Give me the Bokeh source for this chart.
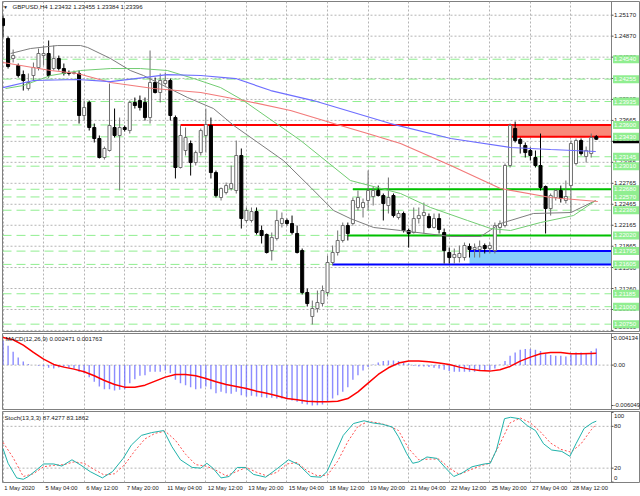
from bokeh.plotting import figure
from bokeh.models import ColumnDataSource, Range1d, FixedTicker, Label
from bokeh.layouts import column
from bokeh.embed import file_html
from bokeh.resources import INLINE
from bokeh.core.properties import value

# ---------------- data ----------------
symbol = "GBPUSD,H4"

opens = [
    1.25122, 1.24836, 1.24550, 1.24450, 1.24321, 1.24121, 1.24307, 1.24421, 1.24593, 1.24622,
    1.24407, 1.24550, 1.24407, 1.24350, 1.24336, 1.24336, 1.23735, 1.23921, 1.23563, 1.23406,
    1.23134, 1.23234, 1.23563, 1.23449, 1.23563, 1.23520, 1.23921, 1.23949, 1.23921, 1.23706,
    1.24207, 1.24064, 1.24193, 1.24236, 1.23706, 1.22991, 1.23234, 1.23334, 1.23062, 1.23205,
    1.23449, 1.23592, 1.22919, 1.22562, 1.22633, 1.22690, 1.22662, 1.23163, 1.22233, 1.22233,
    1.22361, 1.22090, 1.22032, 1.21803, 1.21975, 1.22190, 1.22233, 1.22190, 1.22047, 1.21803,
    1.21203, 1.20860, 1.20974, 1.21045, 1.21203, 1.21632, 1.21775, 1.21947, 1.22161, 1.22190,
    1.22419, 1.22419, 1.22519, 1.22576, 1.22662, 1.22590, 1.22447, 1.22590, 1.22276, 1.22333,
    1.22090, 1.22061, 1.22261, 1.22304, 1.22290, 1.22133, 1.22261, 1.22061, 1.21775, 1.21703,
    1.21703, 1.21703, 1.21861, 1.21818, 1.21818, 1.21875, 1.21832, 1.21803, 1.22133, 1.22161,
    1.23020, 1.23549, 1.23391, 1.23306, 1.23234, 1.23134, 1.23020, 1.22719, 1.22404, 1.22562,
    1.22662, 1.22519, 1.22733, 1.23048, 1.23377, 1.23148, 1.23191, 1.23432]
highs = [
    1.25165, 1.24865, 1.24679, 1.24479, 1.24379, 1.24336, 1.24493, 1.24693, 1.24736, 1.24808,
    1.24736, 1.24593, 1.24479, 1.24379, 1.24379, 1.24379, 1.23949, 1.23949, 1.23620, 1.23449,
    1.23291, 1.24193, 1.23835, 1.23706, 1.23592, 1.23949, 1.23992, 1.24021, 1.23992, 1.24665,
    1.24278, 1.24336, 1.24350, 1.24264, 1.23735, 1.23592, 1.23563, 1.23377, 1.23234, 1.23549,
    1.23835, 1.23706, 1.22948, 1.22705, 1.22776, 1.23020, 1.23377, 1.23263, 1.22419, 1.22419,
    1.22419, 1.22161, 1.22047, 1.22061, 1.22376, 1.22347, 1.22261, 1.22304, 1.22161, 1.21832,
    1.21260, 1.21088, 1.21231, 1.21303, 1.21732, 1.21875, 1.22090, 1.22204, 1.22204, 1.22562,
    1.22662, 1.22547, 1.22948, 1.22719, 1.22733, 1.22619, 1.22848, 1.22619, 1.22376, 1.22361,
    1.22118, 1.22419, 1.22419, 1.22490, 1.22333, 1.22333, 1.22333, 1.22118, 1.21846, 1.21832,
    1.21875, 1.21918, 1.21904, 1.21904, 1.21947, 1.21904, 1.21918, 1.22204, 1.22233, 1.23048,
    1.23620, 1.23649, 1.23420, 1.23349, 1.23277, 1.23234, 1.23477, 1.22733, 1.22619, 1.22690,
    1.22733, 1.22805, 1.23377, 1.23406, 1.23406, 1.23291, 1.23477, 1.23455]
lows = [
    1.24851, 1.24407, 1.24493, 1.24278, 1.24092, 1.24092, 1.24236, 1.24379, 1.24450, 1.24278,
    1.24379, 1.24379, 1.24307, 1.24307, 1.24321, 1.23620, 1.23663, 1.23520, 1.23349, 1.23120,
    1.23105, 1.23220, 1.23420, 1.22662, 1.23506, 1.23477, 1.23835, 1.23806, 1.23663, 1.23620,
    1.24050, 1.23921, 1.24164, 1.23663, 1.22834, 1.22977, 1.23163, 1.22876, 1.23020, 1.23163,
    1.23205, 1.22834, 1.22562, 1.22519, 1.22605, 1.22662, 1.22619, 1.22118, 1.22204, 1.22204,
    1.22032, 1.21904, 1.21761, 1.21660, 1.21947, 1.22133, 1.22161, 1.22032, 1.21761, 1.21174,
    1.21002, 1.20745, 1.20917, 1.21002, 1.21145, 1.21589, 1.21732, 1.21918, 1.21947, 1.22161,
    1.22376, 1.22276, 1.22376, 1.22447, 1.22576, 1.22233, 1.22333, 1.22276, 1.22247, 1.22061,
    1.21846, 1.22047, 1.22190, 1.22047, 1.22118, 1.22118, 1.22047, 1.21618, 1.21618, 1.21618,
    1.21632, 1.21660, 1.21703, 1.21703, 1.21703, 1.21761, 1.21761, 1.21761, 1.22047, 1.22133,
    1.22991, 1.23349, 1.23191, 1.23134, 1.23091, 1.22991, 1.22662, 1.22047, 1.22304, 1.22519,
    1.22490, 1.22476, 1.22347, 1.23020, 1.23163, 1.23062, 1.23134, 1.23384]
closes = [
    1.25022, 1.24436, 1.24593, 1.24307, 1.24236, 1.24207, 1.24421, 1.24622, 1.24622, 1.24307,
    1.24550, 1.24407, 1.24336, 1.24336, 1.24350, 1.23735, 1.23849, 1.23563, 1.23406, 1.23134,
    1.23263, 1.23592, 1.23449, 1.23563, 1.23535, 1.23921, 1.23878, 1.23849, 1.23706, 1.24207,
    1.24064, 1.24236, 1.24236, 1.23735, 1.22991, 1.23449, 1.23420, 1.23062, 1.23205, 1.23520,
    1.23606, 1.22919, 1.22590, 1.22690, 1.22733, 1.22762, 1.23163, 1.22261, 1.22376, 1.22361,
    1.22061, 1.22018, 1.21775, 1.21989, 1.22233, 1.22261, 1.22190, 1.22061, 1.21775, 1.21203,
    1.21045, 1.20974, 1.21060, 1.21231, 1.21632, 1.21775, 1.21947, 1.22161, 1.22047, 1.22519,
    1.22562, 1.22490, 1.22662, 1.22662, 1.22590, 1.22476, 1.22562, 1.22304, 1.22333, 1.22090,
    1.22047, 1.22261, 1.22304, 1.22347, 1.22133, 1.22261, 1.22104, 1.21803, 1.21703, 1.21746,
    1.21761, 1.21875, 1.21818, 1.21846, 1.21861, 1.21832, 1.21875, 1.22161, 1.22190, 1.23020,
    1.23592, 1.23377, 1.23334, 1.23205, 1.23163, 1.23020, 1.22705, 1.22404, 1.22590, 1.22662,
    1.22547, 1.22576, 1.23334, 1.23377, 1.23191, 1.23234, 1.23420, 1.23396]

# moving averages (bar position, price)
ma_gray_x = [1.5, 5.4, 10.7, 15.3, 16.7, 21.2, 25.1, 27.7, 32.4, 36.4, 41.5, 45.5, 55.3, 60.7,
             65.2, 68.5, 73.1, 78.4, 88.3, 94.2, 98.1, 104.6, 112.0, 116.9]
ma_gray_y = [1.24622, 1.24693, 1.24736, 1.24736, 1.24708, 1.24550, 1.24379, 1.24307, 1.24136,
             1.23992, 1.23835, 1.23592, 1.23091, 1.22705, 1.22376, 1.22261, 1.22133, 1.22090,
             1.22004, 1.22004, 1.22190, 1.22333, 1.22347, 1.22519]
ma_red_x = [0.0, 9.4, 14.7, 21.2, 29.7, 39.0, 47.4, 56.7, 65.2, 71.9, 78.4, 88.3, 98.1, 108.0, 117.3]
ma_red_y = [1.24493, 1.24379, 1.24336, 1.24207, 1.24121, 1.24064, 1.23950, 1.23807, 1.23621,
            1.23478, 1.23335, 1.23020, 1.22691, 1.22562, 1.22505]
ma_blue_x = [0.0, 6.0, 14.7, 21.2, 27.7, 32.4, 39.0, 45.9, 52.8, 61.2, 76.4, 88.3, 100.1, 108.0, 116.9]
ma_blue_y = [1.24135, 1.24236, 1.24250, 1.24221, 1.24278, 1.24321, 1.24307, 1.24264, 1.24092,
             1.23949, 1.23620, 1.23406, 1.23277, 1.23249, 1.23220]
ma_green_x = [0.5, 4.0, 9.4, 15.3, 21.2, 27.1, 32.4, 37.6, 42.9, 47.4, 58.7, 68.5, 78.4, 84.3,
              91.6, 96.2, 100.1, 106.0, 112.5, 116.9]
ma_green_y = [1.24121, 1.24164, 1.24307, 1.24379, 1.24407, 1.24407, 1.24379, 1.24264, 1.24135,
              1.23949, 1.23377, 1.22805, 1.22619, 1.22419, 1.22233, 1.22118, 1.22090, 1.22204,
              1.22304, 1.22519]

# chart objects
level_prices = [1.24540, 1.24255, 1.23935, 1.23600, 1.23430, 1.23145, 1.23010, 1.22680,
                1.22570, 1.22380, 1.22020, 1.21795, 1.21605, 1.21185, 1.21000, 1.20750]
red_line = dict(start=35, price=1.23600)
red_zone = dict(start=100, top=1.23600, bottom=1.23430)
green_lines_start = [69, 68]
green_lines_price = [1.22680, 1.22020]
blue_line = dict(start=65, price=1.21605)
blue_zone = dict(start=92, top=1.21795, bottom=1.21605)

price_ticks = [1.25170, 1.24870, 1.24570, 1.24265, 1.23965, 1.23665, 1.23365, 1.23065,
               1.22765, 1.22465, 1.22165, 1.21865, 1.21560, 1.21260, 1.20960, 1.20660]

date_idx = [0, 8, 16, 24, 32, 40, 48, 56, 64, 72, 80, 88, 96, 104, 112]
date_labels = ["1 May 2020", "5 May 04:00", "6 May 12:00", "7 May 20:00", "11 May 04:00",
               "12 May 12:00", "13 May 20:00", "15 May 04:00", "18 May 12:00", "19 May 20:00",
               "21 May 04:00", "22 May 12:00", "25 May 20:00", "27 May 04:00", "28 May 12:00"]

# MACD(12,26,9)
macd_hist = [
    0.00364, 0.0029, 0.0020, 0.00115, 0.00055, 0.00015, 0.00002, -0.0001, -0.0002, -0.0004,
    -0.0005, -0.00035, -0.00025, -0.0004, -0.0005, -0.0010, -0.0012, -0.0018, -0.0025, -0.0032,
    -0.0036, -0.0036, -0.0038, -0.0037, -0.0036, -0.0027, -0.0021, -0.0016, -0.0015, -0.0010,
    -0.0010, -0.0010, -0.0008, -0.0012, -0.0022, -0.0027, -0.0030, -0.0033, -0.0036, -0.0035,
    -0.0032, -0.0036, -0.0042, -0.0040, -0.0042, -0.0043, -0.0040, -0.0045, -0.0047, -0.0046,
    -0.0047, -0.0048, -0.0049, -0.0049, -0.0050, -0.0050, -0.0051, -0.0053, -0.0055, -0.0058,
    -0.0059, -0.006049, -0.0060, -0.0059, -0.0055, -0.0050, -0.0045, -0.0040, -0.0033, -0.0022,
    -0.0015, -0.0008, -0.0003, 0.0001, 0.0004, 0.0006, 0.0007, 0.0007, 0.0006, 0.0004,
    0.0002, -0.0001, -0.0002, -0.0002, -0.0003, -0.0004, -0.0005, -0.0007, -0.0009, -0.0010,
    -0.0010, -0.0010, -0.0010, -0.0010, -0.0009, -0.0009, -0.0008, -0.0005, 0.0001, 0.0006,
    0.0014, 0.0019, 0.0023, 0.0024, 0.0024, 0.0023, 0.0021, 0.0017, 0.0015, 0.0014,
    0.0014, 0.0013, 0.0016, 0.0019, 0.0019, 0.0018, 0.0021, 0.002471]
macd_sig_x = [0, 2, 4, 6, 8, 10, 12, 14, 16, 18, 20, 22, 24, 26, 28, 30, 32, 34, 36, 38,
              40, 42, 44, 46, 48, 50, 52, 54, 56, 58, 60, 62, 64, 66, 68, 70, 72, 74, 76, 78,
              80, 82, 84, 86, 88, 90, 92, 94, 96, 98, 100, 102, 104, 106, 108, 110, 112, 114, 116, 117]
macd_sig = [0.004134, 0.0038, 0.0030, 0.0019, 0.0009, 0.0001, -0.0003, -0.0006, -0.0010, -0.0016,
            -0.0023, -0.0029, -0.0033, -0.0033, -0.0030, -0.0024, -0.0018, -0.0014, -0.0014, -0.0016,
            -0.0020, -0.0025, -0.0029, -0.0032, -0.0035, -0.0039, -0.0042, -0.0046, -0.0050, -0.0052,
            -0.0054, -0.0055, -0.0055, -0.0054, -0.0050, -0.0040, -0.0027, -0.0014, -0.0004, 0.0003,
            0.0006, 0.0006, 0.0005, 0.0003, 0.0001, -0.0003, -0.0006, -0.0008, -0.0009, -0.0007,
            -0.0002, 0.0006, 0.0012, 0.0017, 0.0019, 0.0019, 0.0017, 0.0017, 0.00175, 0.001763]
macd_ticks = [0.004134, 0.0, -0.006049]
macd_tick_text = ["0.004134", "0.00", "-0.006049"]

# Stochastic(13,3,3)
stoch_x = [0, 1, 2.7, 4, 5, 6.7, 8, 10, 11.6, 13.6, 15.2, 17.2, 19.6, 21.6, 23.7, 25.3, 27.3,
           29.3, 31.7, 33.3, 35, 37.3, 39, 40.2, 41.4, 43, 44.6, 46.2, 47.8, 49.4, 51.8, 54.2,
           56.3, 58.3, 60.7, 62.7, 63.9, 65.5, 67.1, 69.1, 71.2, 72.8, 74.8, 76.8, 78, 79.6,
           80.8, 82, 83.6, 85.6, 87.3, 88.9, 90.5, 92.5, 94.9, 96.1, 97.3, 98.9, 100.1, 101.8,
           103.4, 105, 106.6, 108.2, 110.2, 111.8, 113, 114.6, 116.2, 117]
stoch_main = [48, 27, 6, 4, 8, 18, 26, 26, 23, 32, 25, 15, 6, 15, 34, 53, 67, 71, 74, 51, 32,
              21, 20, 27, 20, 6, 8, 21, 21, 11, 7, 20, 32, 25, 8, 7, 15, 41, 67, 84, 88, 85, 83,
              79, 65, 41, 27, 29, 36, 34, 20, 8, 13, 22, 26, 27, 46, 91, 93, 91, 81, 74, 55, 46,
              44, 37, 55, 77, 85, 87.4277]
stoch_sig_x = [0, 2, 4, 6, 8, 10, 12, 14, 16, 18, 20, 22, 24, 26, 28, 30, 32, 34, 36, 38,
               40, 42, 44, 46, 48, 50, 52, 54, 56, 58, 60, 62, 64, 66, 68, 70, 72, 74, 76, 78,
               80, 82, 84, 86, 88, 90, 92, 94, 96, 98, 100, 102, 104, 106, 108, 110, 112, 114, 116, 117]
stoch_sig = [57, 35, 8, 12, 22, 24, 25, 29, 27, 18, 10, 12, 25, 45, 62, 70, 73, 60, 40, 25,
             23, 17, 9, 15, 21, 14, 9, 14, 26, 28, 16, 9, 10, 30, 58, 80, 87, 85, 81, 74,
             48, 32, 33, 33, 20, 11, 17, 23, 27, 55, 85, 92, 85, 72, 56, 47, 43, 55, 75, 83.1862]
stoch_ticks = [100, 80, 20, 0]
stoch_levels = [20, 80]

# ---------------- layout / style ----------------
FONT = "Liberation Sans"
FS = "6.1px"
FS_MACD = "5.9px"
FS_DATE = "5.8px"
TXT = "#1a1a1a"
GRID = "#b4b4b4"
EDGE = "#808080"
X0, X1 = -0.1, 120.0            # visible bars; X1 = price-scale line
PLOT_W = 609                     # width of the chart area in px
SCALE_W = 29                     # price scale strip on the right
bar_px = PLOT_W / (X1 - X0)
XR = X1 + SCALE_W / bar_px
x_range = Range1d(X0, XR)


def panel(frame_h, y_range, top, bottom, x_axis=None):
    f = figure(frame_width=PLOT_W + SCALE_W, frame_height=frame_h, x_range=x_range,
               y_range=y_range, x_axis_location=x_axis, y_axis_location=None,
               toolbar_location=None, output_backend="svg", min_border_left=2,
               min_border_right=0, min_border_top=top, min_border_bottom=bottom)
    f.outline_line_color = EDGE
    f.background_fill_color = "white"
    f.border_fill_color = "white"
    f.xgrid.ticker = FixedTicker(ticks=date_idx)
    f.xgrid.grid_line_color = GRID
    f.xgrid.grid_line_dash = "2 2"
    f.ygrid.visible = False
    return f


def hgrid(f, levels):
    f.segment(x0=X0, x1=X1, y0=levels, y1=levels, line_color=GRID, line_dash="2 2", line_width=1)


def price_scale(f, frame_h, ticks, texts, size, gap=2.5):
    yr = f.y_range
    m = 4.5 * (yr.end - yr.start) / frame_h
    label_y = [min(max(t, yr.start + m), yr.end - m) for t in ticks]
    f.segment(x0=X1, x1=X1, y0=yr.start, y1=yr.end, line_color=EDGE, line_width=1)
    f.segment(x0=X1, x1=X1 + 2 / bar_px, y0=ticks, y1=ticks, line_color="#505050", line_width=1)
    f.text(x=[X1 + gap / bar_px] * len(ticks), y=label_y, text=texts, text_font=value(FONT),
           text_font_size=value(size), text_color=TXT, text_baseline="middle", text_align="left")


# ---------------- main price window ----------------
H_MAIN = 330
p = panel(H_MAIN, Range1d(1.20645, 1.25366), 1, 1)
hgrid(p, price_ticks)

for lv in level_prices:
    p.segment(x0=X0, x1=X1, y0=lv, y1=lv, line_color="#90ee90", line_width=1, line_dash="9 5")

p.quad(left=red_zone["start"], right=X1, top=red_zone["top"], bottom=red_zone["bottom"],
       fill_color="#f98a7a", line_color=None)
p.quad(left=blue_zone["start"], right=X1, top=blue_zone["top"], bottom=blue_zone["bottom"],
       fill_color="#87cefa", line_color=None)
p.segment(x0=red_line["start"], x1=X1, y0=red_line["price"], y1=red_line["price"],
          line_color="#ff0000", line_width=2)
p.segment(x0=red_zone["start"], x1=X1, y0=red_zone["bottom"], y1=red_zone["bottom"],
          line_color="#ff0000", line_width=2)
for st, lv in zip(green_lines_start, green_lines_price):
    p.segment(x0=st, x1=X1, y0=lv, y1=lv, line_color="#00c000", line_width=2)
p.segment(x0=blue_line["start"], x1=X1, y0=blue_line["price"], y1=blue_line["price"],
          line_color="#0000ff", line_width=2)
p.segment(x0=blue_zone["start"], x1=X1, y0=blue_zone["top"], y1=blue_zone["top"],
          line_color="#0000ff", line_width=2)

idx = list(range(len(opens)))
up = [c >= o for o, c in zip(opens, closes)]
src = ColumnDataSource(dict(
    x=idx, h=highs, l=lows,
    top=[max(o, c) for o, c in zip(opens, closes)],
    bot=[min(o, c) for o, c in zip(opens, closes)],
    fill=["white" if u else "black" for u in up],
    line=["#6e6e6e" if u else "black" for u in up],
))
p.segment(x0="x", x1="x", y0="l", y1="h", line_color="line", line_width=1, source=src)
p.vbar(x="x", width=0.6, top="top", bottom="bot", fill_color="fill", line_color="line",
       line_width=1, source=src)

p.line(ma_gray_x, ma_gray_y, line_color="#7d7d7d", line_width=1)
p.line(ma_green_x, ma_green_y, line_color="#72cc72", line_width=1)
p.line(ma_red_x, ma_red_y, line_color="#f27a7a", line_width=1.2)
p.line(ma_blue_x, ma_blue_y, line_color="#6e6eff", line_width=1.2)

price_scale(p, H_MAIN, price_ticks, [f"{t:.5f}" for t in price_ticks], FS)

# price tags on the scale
tag_cx = X1 + (1.5 + 13) / bar_px
tag_tx = X1 + 2.5 / bar_px
p.rect(x=[tag_cx], y=[closes[-1]], width=26, height=8, width_units="screen",
       height_units="screen", fill_color="black", line_color=None)
p.text(x=[tag_tx], y=[closes[-1]], text=[f"{closes[-1]:.5f}"], text_font=value(FONT),
       text_font_size=value(FS), text_color="white", text_baseline="middle", text_align="left")
p.rect(x=[tag_cx] * len(level_prices), y=level_prices, width=26, height=8, width_units="screen",
       height_units="screen", fill_color="#90ee90", line_color=None)
p.text(x=[tag_tx] * len(level_prices), y=level_prices, text=[f"{lv:.5f}" for lv in level_prices],
       text_font=value(FONT), text_font_size=value(FS), text_color="white",
       text_baseline="middle", text_align="left")

title = f"{symbol} {opens[-1]:.5f} {highs[-1]:.5f} {lows[-1]:.5f} {closes[-1]:.5f}"
p.add_layout(Label(x=3, y=H_MAIN - 5, x_units="screen", y_units="screen", text="\u25bc",
                   text_font_size="5px", text_align="center", text_baseline="middle",
                   text_color=TXT))
p.add_layout(Label(x=10, y=H_MAIN - 5, x_units="screen", y_units="screen", text=title,
                   text_font=FONT, text_font_size=FS, text_baseline="middle", text_color=TXT))

# ---------------- MACD window ----------------
H_MACD = 76
m = panel(H_MACD, Range1d(-0.006647, 0.004734), 1, 1)
hgrid(m, [0.0])
m.vbar(x=idx, top=macd_hist, bottom=0, width=0.28, fill_color="#6f6fff", fill_alpha=0.8,
       line_color=None)
m.line(macd_sig_x, macd_sig, line_color="#ff0000", line_width=1.5)
price_scale(m, H_MACD, macd_ticks, macd_tick_text, FS_MACD, gap=2)
m.add_layout(Label(x=3, y=H_MACD - 4.7, x_units="screen", y_units="screen",
                   text=f"MACD(12,26,9) {macd_hist[-1]:.6f} {macd_sig[-1]:.6f}",
                   text_font=FONT, text_font_size=FS, text_baseline="middle", text_color=TXT))

# ---------------- Stochastic window ----------------
H_STOCH = 71
s = panel(H_STOCH, Range1d(-0.6, 101.3), 1, 14, x_axis="below")
hgrid(s, stoch_levels)
s.line(stoch_sig_x, stoch_sig, line_color="#ff5050", line_width=1, line_dash="2 2")
s.line(stoch_x, stoch_main, line_color="#20b2aa", line_width=1)
price_scale(s, H_STOCH, stoch_ticks, [str(t) for t in stoch_ticks], FS)
s.add_layout(Label(x=2, y=H_STOCH - 6, x_units="screen", y_units="screen",
                   text=f"Stoch(13,3,3) {stoch_main[-1]:.4f} {stoch_sig[-1]:.4f}",
                   text_font=FONT, text_font_size=FS, text_baseline="middle", text_color=TXT))

date_pos = [i + (2 + 2.9 * len(t) / 2) / bar_px for i, t in zip(date_idx, date_labels)]
xa = s.xaxis[0]
xa.ticker = FixedTicker(ticks=date_pos)
xa.major_label_overrides = {v: t for v, t in zip(date_pos, date_labels)}
xa.major_tick_out = 0
xa.major_tick_in = 0
xa.minor_tick_out = 0
xa.minor_tick_in = 0
xa.axis_line_color = None
xa.major_label_standoff = 2
xa.major_label_text_font = FONT
xa.major_label_text_font_size = FS_DATE
xa.major_label_text_color = TXT

layout = column(p, m, s, spacing=0)
open("out.html", "w").write(file_html(layout, INLINE))
